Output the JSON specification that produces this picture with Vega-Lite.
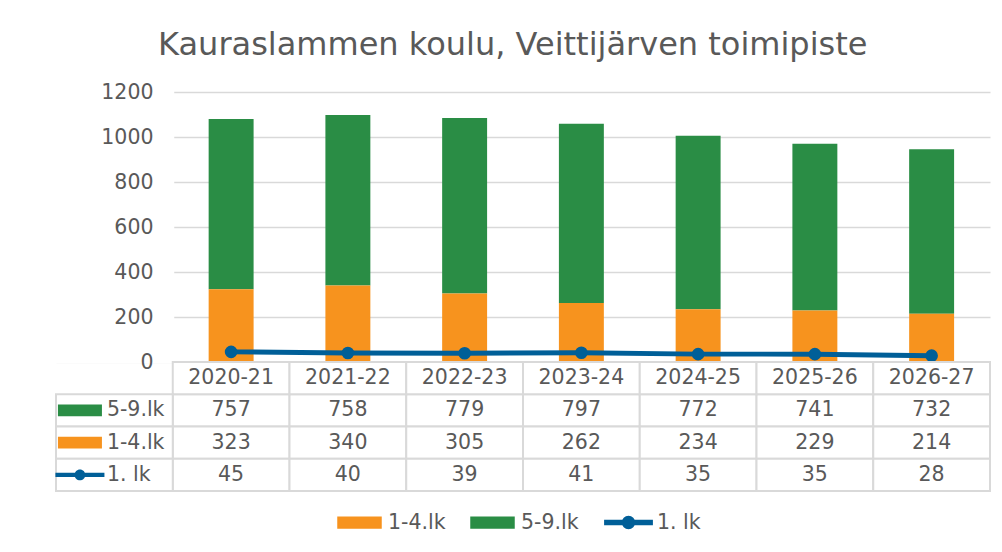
{
  "$schema": "https://vega.github.io/schema/vega-lite/v6.json",
  "background": "white",
  "autosize": {"type": "pad"},
  "padding": {"left": 54, "top": 28, "right": 14, "bottom": 20},
  "title": {"text": "Kauraslammen koulu, Veittijärven toimipiste", "fontSize": 32, "font": "DejaVu Sans", "fontWeight": "normal", "color": "#595959", "anchor": "middle", "offset": 20.5, "dx": -10},
  "datasets": {
    "d": [
      {"year": "2020-21", "series": "5-9.lk", "value": 757},
      {"year": "2020-21", "series": "1-4.lk", "value": 323},
      {"year": "2020-21", "series": "1. lk", "value": 45},
      {"year": "2021-22", "series": "5-9.lk", "value": 758},
      {"year": "2021-22", "series": "1-4.lk", "value": 340},
      {"year": "2021-22", "series": "1. lk", "value": 40},
      {"year": "2022-23", "series": "5-9.lk", "value": 779},
      {"year": "2022-23", "series": "1-4.lk", "value": 305},
      {"year": "2022-23", "series": "1. lk", "value": 39},
      {"year": "2023-24", "series": "5-9.lk", "value": 797},
      {"year": "2023-24", "series": "1-4.lk", "value": 262},
      {"year": "2023-24", "series": "1. lk", "value": 41},
      {"year": "2024-25", "series": "5-9.lk", "value": 772},
      {"year": "2024-25", "series": "1-4.lk", "value": 234},
      {"year": "2024-25", "series": "1. lk", "value": 35},
      {"year": "2025-26", "series": "5-9.lk", "value": 741},
      {"year": "2025-26", "series": "1-4.lk", "value": 229},
      {"year": "2025-26", "series": "1. lk", "value": 35},
      {"year": "2026-27", "series": "5-9.lk", "value": 732},
      {"year": "2026-27", "series": "1-4.lk", "value": 214},
      {"year": "2026-27", "series": "1. lk", "value": 28}
    ]
  },
  "data": {"name": "d"},
  "spacing": 0,
  "bounds": "flush",
  "resolve": {"scale": {"x": "independent", "y": "independent", "color": "shared"}},
  "vconcat": [
    {
      "width": 934,
      "height": 270,
      "resolve": {"scale": {"y": "shared"}, "axis": {"y": "independent"}},
      "layer": [
        {
          "transform": [{"filter": "datum.series != '1. lk'"}],
          "mark": {"type": "bar", "width": {"band": 0.385}},
          "encoding": {
            "x": {"field": "year", "type": "nominal", "axis": null, "scale": {"domain": ["lbl", "2020-21", "2021-22", "2022-23", "2023-24", "2024-25", "2025-26", "2026-27"], "paddingInner": 0, "paddingOuter": 0}},
            "y": {"field": "value", "type": "quantitative", "stack": "zero", "scale": {"domain": [0, 1200]},
              "axis": {"orient": "right", "values": [0, 200, 400, 600, 800, 1000, 1200], "title": null, "grid": true, "gridColor": "#d9d9d9", "gridWidth": 1.5, "labels": false, "domain": false, "ticks": false, "zindex": 0}},
            "order": {"field": "series", "sort": "ascending"},
            "color": {"field": "series", "type": "nominal",
              "scale": {"domain": ["1-4.lk", "5-9.lk", "1. lk"], "range": ["#F7931E", "#2A8D45", "#005F98"]},
              "legend": {"title": null, "orient": "none", "legendX": 281, "legendY": 408, "direction": "horizontal", "padding": 0, "labelFontSize": 20.5, "labelColor": "#595959", "labelFont": "DejaVu Sans", "symbolSize": 1849, "columnPadding": 22, "labelOffset": 6,
                "encode": {"symbols": {"update": {
                  "shape": {"signal": "datum.label == '1. lk' ? 'M-1.1,-0.095H1.1V0.095H-1.1Z M0.28,0A0.28,0.28 0 1,1 -0.28,0A0.28,0.28 0 1,1 0.28,0Z' : 'M-1,-0.25H1V0.25H-1Z'"},
                  "fill": {"signal": "scale('color', datum.value)"},
                  "stroke": {"value": "transparent"},
                  "opacity": {"value": 1}
                }}}}}
          }
        },
        {
          "transform": [{"filter": "datum.series == '1. lk' && datum.year == '2020-21'"}],
          "mark": {"type": "rect", "fill": "white", "stroke": "white", "strokeWidth": 3},
          "encoding": {
            "x": {"datum": "lbl", "type": "nominal"}
          }
        },
        {
          "transform": [{"filter": "datum.series == '1. lk'"}],
          "mark": {"type": "line", "strokeWidth": 5, "point": {"size": 160, "filled": true}},
          "encoding": {
            "x": {"field": "year", "type": "nominal"},
            "y": {"field": "value", "type": "quantitative",
              "axis": {"orient": "left", "values": [0, 200, 400, 600, 800, 1000, 1200], "format": "d", "title": null, "grid": false, "domain": false, "ticks": false, "labelFontSize": 20.5, "labelColor": "#595959", "labelPadding": 20, "offset": -117, "labelFont": "DejaVu Sans", "zindex": 1}},
            "color": {"field": "series", "type": "nominal"}
          }
        }
      ]
    },
    {
      "width": 934,
      "height": 129,
      "layer": [
        {
          "mark": {"type": "rect", "fill": "white", "stroke": "#d9d9d9", "strokeWidth": 2},
          "encoding": {
            "x": {"field": "year", "type": "nominal", "axis": null, "scale": {"domain": ["lbl", "2020-21", "2021-22", "2022-23", "2023-24", "2024-25", "2025-26", "2026-27"], "paddingInner": 0, "paddingOuter": 0}},
            "y": {"field": "series", "type": "nominal", "axis": null, "scale": {"domain": ["hdr", "5-9.lk", "1-4.lk", "1. lk"], "paddingInner": 0, "paddingOuter": 0}}
          }
        },
        {
          "transform": [{"filter": "datum.series == '1. lk'"}],
          "mark": {"type": "rect", "fill": "white", "stroke": "#d9d9d9", "strokeWidth": 2},
          "encoding": {
            "x": {"field": "year", "type": "nominal"},
            "y": {"datum": "hdr", "type": "nominal"}
          }
        },
        {
          "transform": [{"filter": "datum.year == '2020-21'"}],
          "mark": {"type": "rect", "fill": "white", "stroke": "#d9d9d9", "strokeWidth": 2},
          "encoding": {
            "x": {"datum": "lbl", "type": "nominal"},
            "y": {"field": "series", "type": "nominal"}
          }
        },
        {
          "mark": {"type": "text", "fontSize": 20.5, "color": "#595959", "font": "DejaVu Sans"},
          "encoding": {
            "x": {"field": "year", "type": "nominal"},
            "y": {"field": "series", "type": "nominal"},
            "text": {"field": "value"}
          }
        },
        {
          "transform": [{"filter": "datum.series == '1. lk'"}],
          "mark": {"type": "text", "fontSize": 20.5, "color": "#595959", "font": "DejaVu Sans"},
          "encoding": {
            "x": {"field": "year", "type": "nominal"},
            "y": {"datum": "hdr", "type": "nominal"},
            "text": {"field": "year"}
          }
        },
        {
          "transform": [{"filter": "datum.year == '2020-21'"}],
          "mark": {"type": "text", "fontSize": 20.5, "color": "#595959", "font": "DejaVu Sans", "align": "left"},
          "encoding": {
            "x": {"datum": "lbl", "type": "nominal", "bandPosition": 0.436},
            "y": {"field": "series", "type": "nominal"},
            "text": {"field": "series"}
          }
        },
        {
          "transform": [{"filter": "datum.year == '2020-21' && datum.series != '1. lk'"}],
          "mark": {"type": "point", "filled": true, "opacity": 1, "strokeWidth": 0, "size": 1936, "shape": "M-1,-0.266H1V0.266H-1Z"},
          "encoding": {
            "x": {"datum": "lbl", "type": "nominal", "bandPosition": 0.205},
            "y": {"field": "series", "type": "nominal"},
            "color": {"field": "series", "type": "nominal", "legend": null}
          }
        },
        {
          "transform": [{"filter": "datum.year == '2020-21' && datum.series == '1. lk'"}],
          "mark": {"type": "point", "filled": true, "opacity": 1, "strokeWidth": 0, "size": 2401, "shape": "M-1,-0.082H1V0.082H-1Z M0.22,0A0.22,0.22 0 1,1 -0.22,0A0.22,0.22 0 1,1 0.22,0Z"},
          "encoding": {
            "x": {"datum": "lbl", "type": "nominal", "bandPosition": 0.205},
            "y": {"field": "series", "type": "nominal"},
            "color": {"field": "series", "type": "nominal", "legend": null}
          }
        }
      ]
    }
  ],
  "config": {
    "view": {"stroke": null},
    "font": "DejaVu Sans"
  }
}
